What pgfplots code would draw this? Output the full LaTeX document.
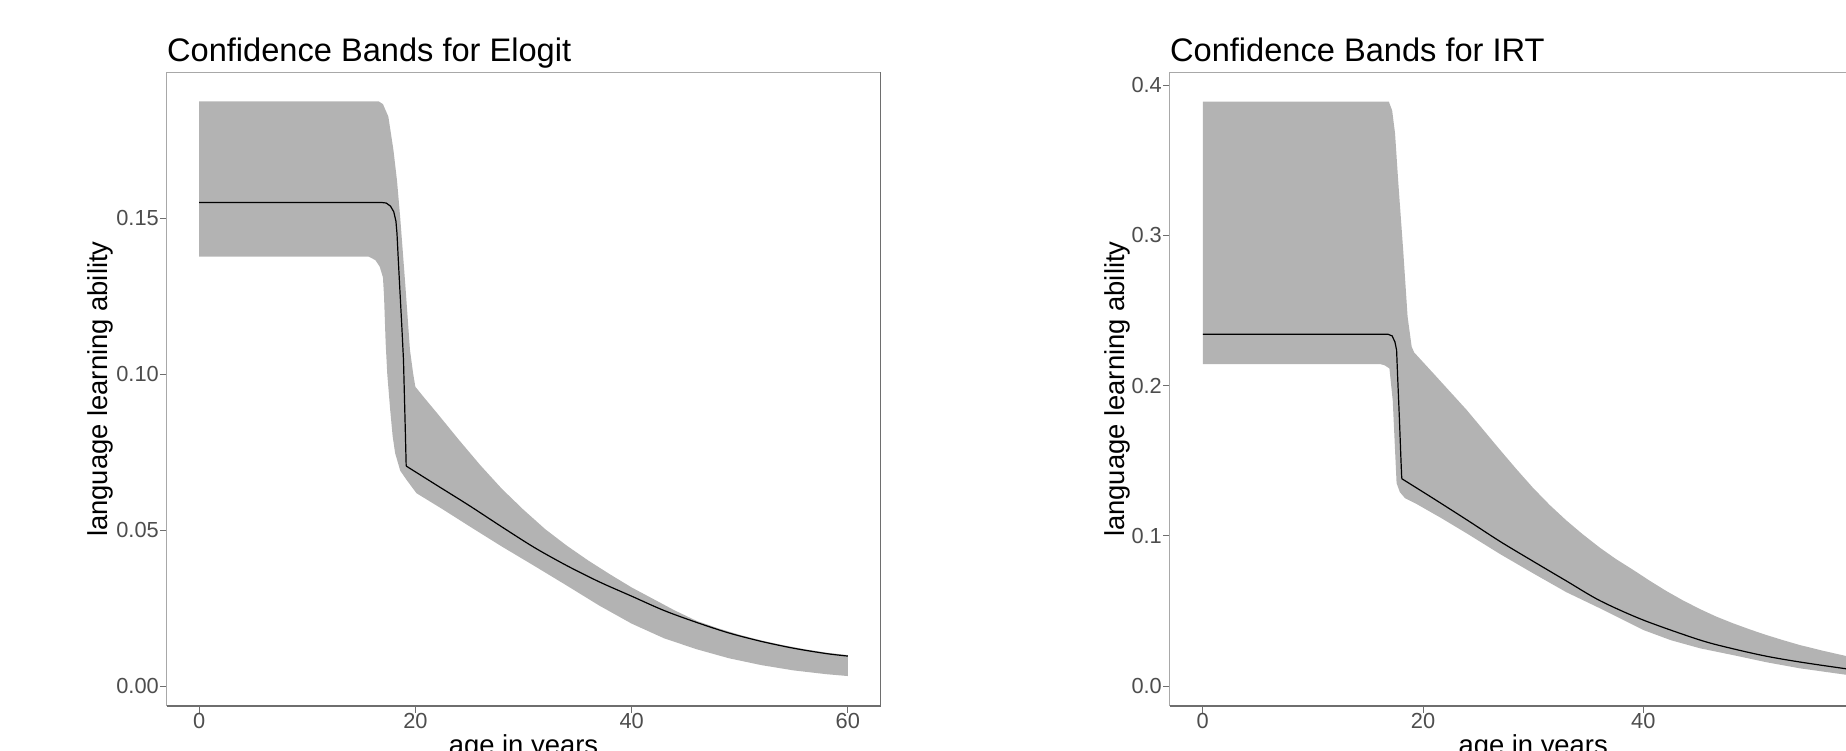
\documentclass[border=0pt]{standalone}
\usepackage{fontspec}
\setmainfont{Liberation Sans}
\usepackage{pgfplots}
\pgfplotsset{compat=1.18}
\usepgfplotslibrary{fillbetween}
\definecolor{band}{HTML}{B3B3B3}
\definecolor{ticklab}{HTML}{4D4D4D}
\definecolor{boxlight}{HTML}{A8A8A8}
\definecolor{boxdark}{HTML}{6E6E6E}
\pgfplotsset{cbstyle/.style={
  scale only axis, height=316.85pt,
  xmin=-3, xmax=63, clip=false,
  xtick={0,20,40,60}, scaled ticks=false,
  xtick pos=bottom, ytick pos=left,
  tick align=outside, major tick length=3.35pt,
  tick style={boxdark, line width=0.5pt},
  axis line style={draw=none},
  /pgf/number format/assume math mode=true,
  ticklabel style={font=\fontsize{10.9}{12}\selectfont, text=ticklab, inner sep=0pt},
  xticklabel style={anchor=north, yshift=-0.3pt},
  yticklabel style={anchor=east, xshift=-0.4pt},
  every axis title shift=0pt,
  title style={font=\fontsize{16.3}{19}\selectfont, at={(axis description cs:0,1.016727)}, anchor=base west, inner sep=0pt},
  label style={font=\fontsize{13.7}{16}\selectfont, inner sep=0pt},
  xlabel style={at={(axis description cs:0.5,-0.07606)}, anchor=base},
  xlabel={age in years}, ylabel={language learning ability},
}}
\begin{document}
\begin{tikzpicture}
% ---------------- Elogit ----------------
\begin{axis}[cbstyle, at={(83.35pt,22pt)}, anchor=south west, width=356.8pt,
  ymin=-0.0064, ymax=0.1967, ytick={0,0.05,0.10,0.15},
  yticklabel style={/pgf/number format/fixed, /pgf/number format/fixed zerofill, /pgf/number format/precision=2},
  ylabel style={at={(axis description cs:-0.08268,0.5)}, anchor=base},
  title={Confidence Bands for Elogit}]
\addplot[name path=U, draw=none] coordinates {
(0,0.1874) (16.6,0.1874) (17.0,0.1865) (17.5,0.1825) (17.97,0.1718) (18.3,0.1620)
(18.6,0.1500) (19.06,0.1290) (19.5,0.1077) (19.8,0.1000) (20.0,0.0959) (20.75,0.0927)
(22,0.0875) (24,0.0790) (26,0.0708) (28,0.0632) (30,0.0565) (32,0.0503) (34,0.0450)
(36,0.0402) (38,0.0358) (40,0.0316) (42,0.0279) (44,0.0242) (46,0.0209) (48,0.0185)
(50,0.0164) (52,0.0146) (54,0.0131) (56,0.0118) (58,0.0107) (60,0.0099)};
\addplot[name path=L, draw=none] coordinates {
(0,0.1376) (15.7,0.1376) (16.3,0.1365) (16.7,0.1344) (17.0,0.1310) (17.1,0.1250)
(17.25,0.1100) (17.4,0.1000) (17.67,0.0885) (17.9,0.0800) (18.13,0.0746) (18.6,0.0690)
(19.2,0.0660) (20.1,0.0618) (22.5,0.0567) (25,0.0512) (28,0.0447) (31,0.0385)
(34,0.0322) (37,0.0258) (40,0.0200) (43,0.0153) (46,0.0118) (49,0.0089) (52,0.0067)
(55,0.0050) (58,0.0038) (60,0.0032)};
\addplot[band] fill between[of=U and L];
\addplot[black, line width=0.6pt] coordinates {
(0,0.1550) (16.8,0.1550) (17.3,0.1548) (17.7,0.1538) (18.0,0.1520) (18.2,0.1490)
(18.3,0.1450) (18.4,0.1380) (18.55,0.1280) (18.75,0.1150) (18.9,0.1045) (19.06,0.0831)
(19.15,0.0705)};
\addplot[black, line width=0.6pt, smooth] coordinates {
(19.15,0.0705) (22,0.0643) (25,0.0578) (28,0.0510) (31,0.0444) (34,0.0386) (37,0.0334)
(40,0.0288) (43,0.0242) (46,0.0204) (49,0.0170) (52,0.0143) (55,0.0121) (58,0.0104)
(60,0.0096)};
\draw[boxlight, line width=0.5pt] (rel axis cs:0,0) -- (rel axis cs:0,1) -- (rel axis cs:1,1);
\draw[boxdark, line width=0.75pt] (rel axis cs:0,0) -- (rel axis cs:1,0) -- (rel axis cs:1,1);
\end{axis}
% ---------------- IRT ----------------
\begin{axis}[cbstyle, at={(584.85pt,22pt)}, anchor=south west, width=363.45pt,
  ymin=-0.0133, ymax=0.4085, ytick={0,0.1,0.2,0.3,0.4},
  yticklabel style={/pgf/number format/fixed, /pgf/number format/fixed zerofill, /pgf/number format/precision=1},
  ylabel style={at={(axis description cs:-0.06163,0.5)}, anchor=base},
  title={Confidence Bands for IRT}]
\addplot[name path=U, draw=none] coordinates {
(0,0.3889) (16.9,0.3889) (17.2,0.3830) (17.46,0.3678) (17.76,0.3346) (18.2,0.2900)
(18.6,0.2458) (18.97,0.2258) (19.2,0.2220) (20.94,0.2081) (23.97,0.1837) (27,0.1571)
(28.5,0.1442) (30,0.1318) (31.5,0.1205) (33,0.1103) (34.5,0.1010) (36.07,0.0920)
(37.5,0.0846) (39.1,0.0772) (40.6,0.0700) (42.1,0.0632) (43.6,0.0570) (45.15,0.0512)
(46.6,0.0463) (48.17,0.0417) (49.7,0.0376) (51.2,0.0339) (52.7,0.0305) (54.2,0.0273)
(56.3,0.0235) (58.4,0.0200) (60,0.0180)};
\addplot[name path=L, draw=none] coordinates {
(0,0.2143) (16.1,0.2143) (16.5,0.2135) (16.95,0.2114) (17.25,0.1900) (17.46,0.1570)
(17.6,0.1350) (17.9,0.1290) (18.37,0.1250) (19.45,0.1210) (21.7,0.1116) (23.97,0.1016)
(27,0.0878) (30,0.0750) (33,0.0625) (36.07,0.0517) (40,0.0373) (42.5,0.0305)
(45.15,0.0251) (48.2,0.0205) (51.2,0.0158) (54.2,0.0118) (58.4,0.0075) (60,0.0065)};
\addplot[band] fill between[of=U and L];
\addplot[black, line width=0.6pt] coordinates {
(0,0.2342) (16.8,0.2342) (17.2,0.2330) (17.45,0.2290) (17.6,0.2236) (17.7,0.2050)
(17.85,0.1790) (18.0,0.1500) (18.07,0.1380)};
\addplot[black, line width=0.6pt, smooth] coordinates {
(18.07,0.1380) (20.9,0.1250) (24,0.1105) (27,0.0962) (30,0.0830) (33,0.0700)
(36.07,0.0568) (40,0.0439) (45.15,0.0306) (48.2,0.0247) (51.2,0.0198) (54.2,0.0160)
(58.4,0.0115) (60,0.0103)};
\draw[boxlight, line width=0.5pt] (rel axis cs:0,0) -- (rel axis cs:0,1) -- (rel axis cs:1,1);
\draw[boxdark, line width=0.75pt] (rel axis cs:0,0) -- (rel axis cs:1,0) -- (rel axis cs:1,1);
\end{axis}
\pgfresetboundingbox
\clip (0,0) rectangle (923pt,375pt);
\useasboundingbox (0,0) rectangle (923pt,375pt);
\end{tikzpicture}
\end{document}
